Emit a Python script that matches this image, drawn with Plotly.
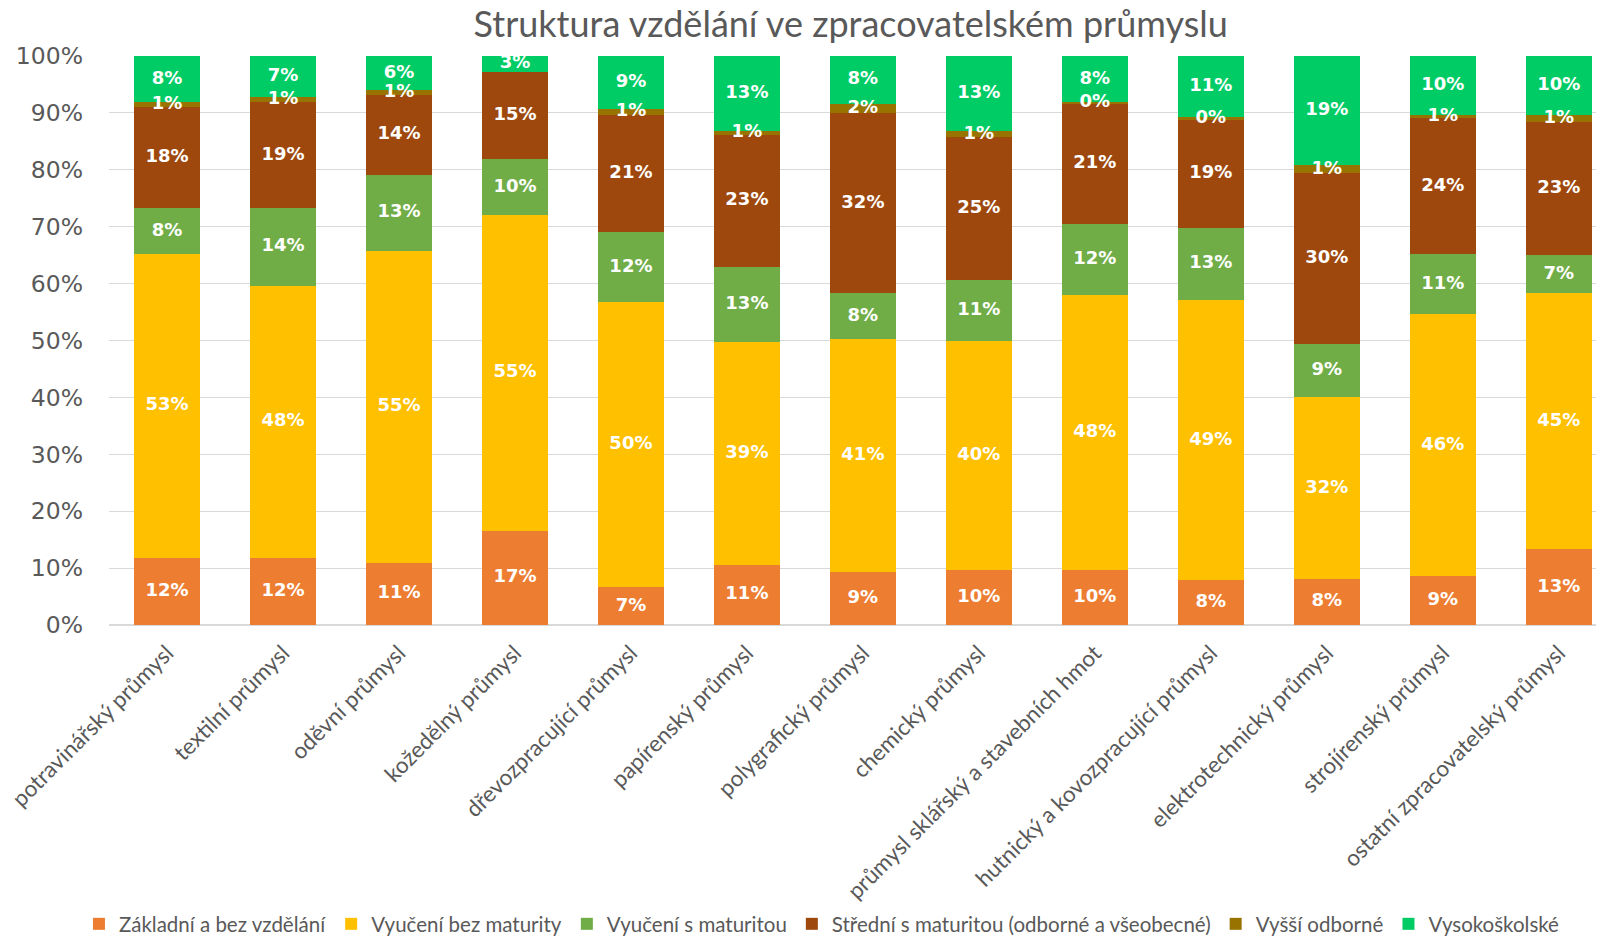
import plotly.graph_objects as go

categories = [
    "potravinářský průmysl", "textilní průmysl", "oděvní průmysl", "kožedělný průmysl",
    "dřevozpracující průmysl", "papírenský průmysl", "polygrafický průmysl", "chemický průmysl",
    "průmysl sklářský a stavebních hmot", "hutnický a kovozpracující průmysl",
    "elektrotechnický průmysl", "strojírenský průmysl", "ostatní zpracovatelský průmysl",
]

zakladni = [11.8, 11.8, 10.9, 16.6, 6.6, 10.6, 9.3, 9.6, 9.6, 7.9, 8.1, 8.6, 13.3]
vyuceni_bez = [53.4, 47.8, 54.9, 55.4, 50.2, 39.1, 41.0, 40.3, 48.4, 49.2, 31.9, 46.0, 45.0]
vyuceni_s = [8.0, 13.7, 13.3, 9.9, 12.2, 13.2, 8.0, 10.8, 12.4, 12.7, 9.3, 10.6, 6.7]
stredni = [17.9, 18.6, 14.1, 15.3, 20.7, 23.3, 31.7, 25.0, 21.3, 19.1, 30.1, 23.9, 23.4]
vyssi = [0.8, 0.9, 0.8, None, 1.0, 0.7, 1.6, 1.1, 0.2, 0.3, 1.4, 0.6, 1.2]
vysoko = [8.1, 7.2, 6.0, 2.8, 9.3, 13.1, 8.4, 13.2, 8.1, 10.8, 19.2, 10.3, 10.4]

series = [
    ("Základní a bez vzdělání", zakladni, "#ED7D31"),
    ("Vyučení bez maturity", vyuceni_bez, "#FFC000"),
    ("Vyučení s maturitou", vyuceni_s, "#70AD47"),
    ("Střední s maturitou (odborné a všeobecné)", stredni, "#9E480E"),
    ("Vyšší odborné", vyssi, "#997300"),
    ("Vysokoškolské", vysoko, "#00CC66"),
]

fig = go.Figure()
for name, vals, color in series:
    fig.add_trace(go.Bar(
        x=categories, y=vals, name=name,
        marker=dict(color=color, line=dict(width=0)),
        hoverinfo="skip",
    ))

# data labels at segment midpoints
base = [0.0] * len(categories)
for name, vals, color in series:
    xs, ys, ts = [], [], []
    for i, v in enumerate(vals):
        if v is None:
            continue
        xs.append(categories[i])
        ys.append(base[i] + v / 2)
        ts.append(f"{v:.0f}%")
        base[i] += v
    fig.add_trace(go.Scatter(
        x=xs, y=ys, text=ts, mode="text", showlegend=False, hoverinfo="skip",
        cliponaxis=False,
        textfont=dict(family="DejaVu Sans", size=18, color="white", weight="bold"),
    ))

fig.update_layout(
    width=1596, height=936,
    barmode="stack", bargap=0.43,
    plot_bgcolor="white", paper_bgcolor="white",
    margin=dict(l=101, r=0, t=48, b=319),
    title=dict(
        text="Struktura vzdělání ve zpracovatelském průmyslu",
        x=0.528, xanchor="center", y=1 - 4 / 936, yanchor="top",
        pad=dict(t=0, b=0),
        font=dict(family="Lato", size=36, color="#595959"),
    ),
    legend=dict(
        orientation="h", xref="container", yref="container",
        x=0.51, xanchor="center", y=0.0, yanchor="bottom",
        font=dict(family="Lato", size=20.5, color="#595959"),
        itemwidth=30, traceorder="normal",
    ),
    yaxis=dict(
        range=[0, 100], dtick=10, ticksuffix="%",
        showgrid=True, gridcolor="#D9D9D9", gridwidth=1,
        zeroline=True, zerolinecolor="#D9D9D9",
        tickfont=dict(family="DejaVu Sans", size=23.5, color="#595959"),
        ticklabelstandoff=25, automargin=False,
        fixedrange=True,
    ),
    xaxis=dict(
        range=[-0.5, 12.39], tickangle=-45,
        tickfont=dict(family="Lato", size=22.5, color="#595959"),
        showline=True, linecolor="#D9D9D9",
        ticklabelstandoff=5, automargin=False,
    ),
)

fig.write_html("out.html")
